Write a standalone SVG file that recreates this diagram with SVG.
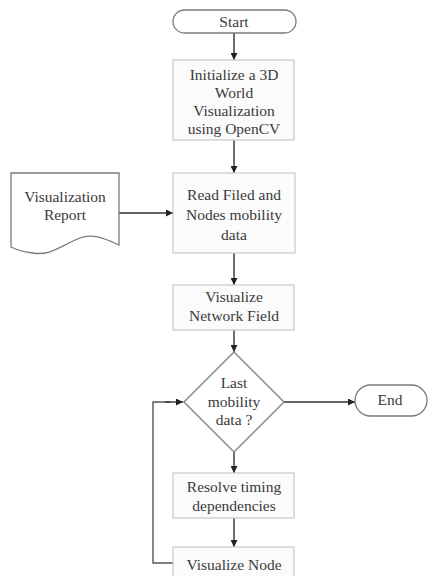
<svg xmlns="http://www.w3.org/2000/svg" width="430" height="576" viewBox="0 0 430 576">
<defs>
<marker id="arr" viewBox="0 0 10 10" refX="10" refY="5" markerWidth="7" markerHeight="7" markerUnits="userSpaceOnUse" orient="auto">
<path d="M0,0 L10,5 L0,10 z" fill="#222"/>
</marker>
<style>
.box{fill:#fbfbfb;stroke:#c9c9c9;stroke-width:1.2}
.term{fill:#fff;stroke:#7a7a7a;stroke-width:1.3}
.dia{fill:#fff;stroke:#8a8a8a;stroke-width:1.5}
.doc{fill:#fff;stroke:#7a7a7a;stroke-width:1.3}
.t{font-family:"Liberation Serif","Times New Roman",serif;font-size:15.5px;fill:#3a3a3a;text-anchor:middle}
.c{fill:none;stroke:#333;stroke-width:1.4;marker-end:url(#arr)}
.l{fill:none;stroke:#555;stroke-width:1.4}
</style>
</defs>
<rect width="430" height="576" fill="#fff"/>
<g id="connectors">
<line class="c" x1="234" y1="33" x2="234" y2="60"/>
<line class="c" x1="234" y1="140" x2="234" y2="173"/>
<line class="c" x1="119" y1="213" x2="173" y2="213"/>
<line class="c" x1="234" y1="253" x2="234" y2="285"/>
<line class="c" x1="234" y1="330" x2="234" y2="352"/>
<line class="c" x1="284" y1="402" x2="355" y2="402"/>
<line class="c" x1="234" y1="452" x2="234" y2="473"/>
<line class="c" x1="234" y1="518" x2="234" y2="547"/>
<polyline class="l" points="173,563 153,563 153,402 170,402"/>
<line class="c" x1="165" y1="402" x2="183" y2="402"/>
</g>
<g id="start">
<rect class="term" x="173" y="10" width="123" height="23" rx="11.5"/>
<text class="t" x="234" y="27">Start</text>
</g>
<g id="init">
<rect class="box" x="173" y="60" width="121" height="80"/>
<text class="t" x="234" y="80">Initialize a 3D</text>
<text class="t" x="234" y="98">World</text>
<text class="t" x="234" y="116">Visualization</text>
<text class="t" x="234" y="134">using OpenCV</text>
</g>
<g id="report">
<path class="doc" d="M11,173 H119 V245 C100,236 90,234 80,238 C60,246 50,256 33,253 C24,252 17,250 11,247 Z"/>
<text class="t" x="65" y="202">Visualization</text>
<text class="t" x="65" y="220">Report</text>
</g>
<g id="read">
<rect class="box" x="173" y="173" width="122" height="80"/>
<text class="t" x="234" y="200">Read Filed and</text>
<text class="t" x="234" y="220">Nodes mobility</text>
<text class="t" x="234" y="240">data</text>
</g>
<g id="visfield">
<rect class="box" x="173" y="285" width="121" height="45"/>
<text class="t" x="234" y="302">Visualize</text>
<text class="t" x="234" y="321">Network Field</text>
</g>
<g id="decision">
<polygon class="dia" points="234,352 284,402 234,452 184,402"/>
<text class="t" x="234" y="388">Last</text>
<text class="t" x="234" y="407">mobility</text>
<text class="t" x="234" y="425">data ?</text>
</g>
<g id="end">
<rect class="term" x="355" y="385" width="72" height="31" rx="15.5"/>
<text class="t" x="390" y="405">End</text>
</g>
<g id="resolve">
<rect class="box" x="173" y="473" width="121" height="45"/>
<text class="t" x="234" y="492">Resolve timing</text>
<text class="t" x="234" y="511">dependencies</text>
</g>
<g id="visnode">
<rect class="box" x="173" y="547" width="121" height="40"/>
<text class="t" x="234" y="570">Visualize Node</text>
</g>
</svg>
